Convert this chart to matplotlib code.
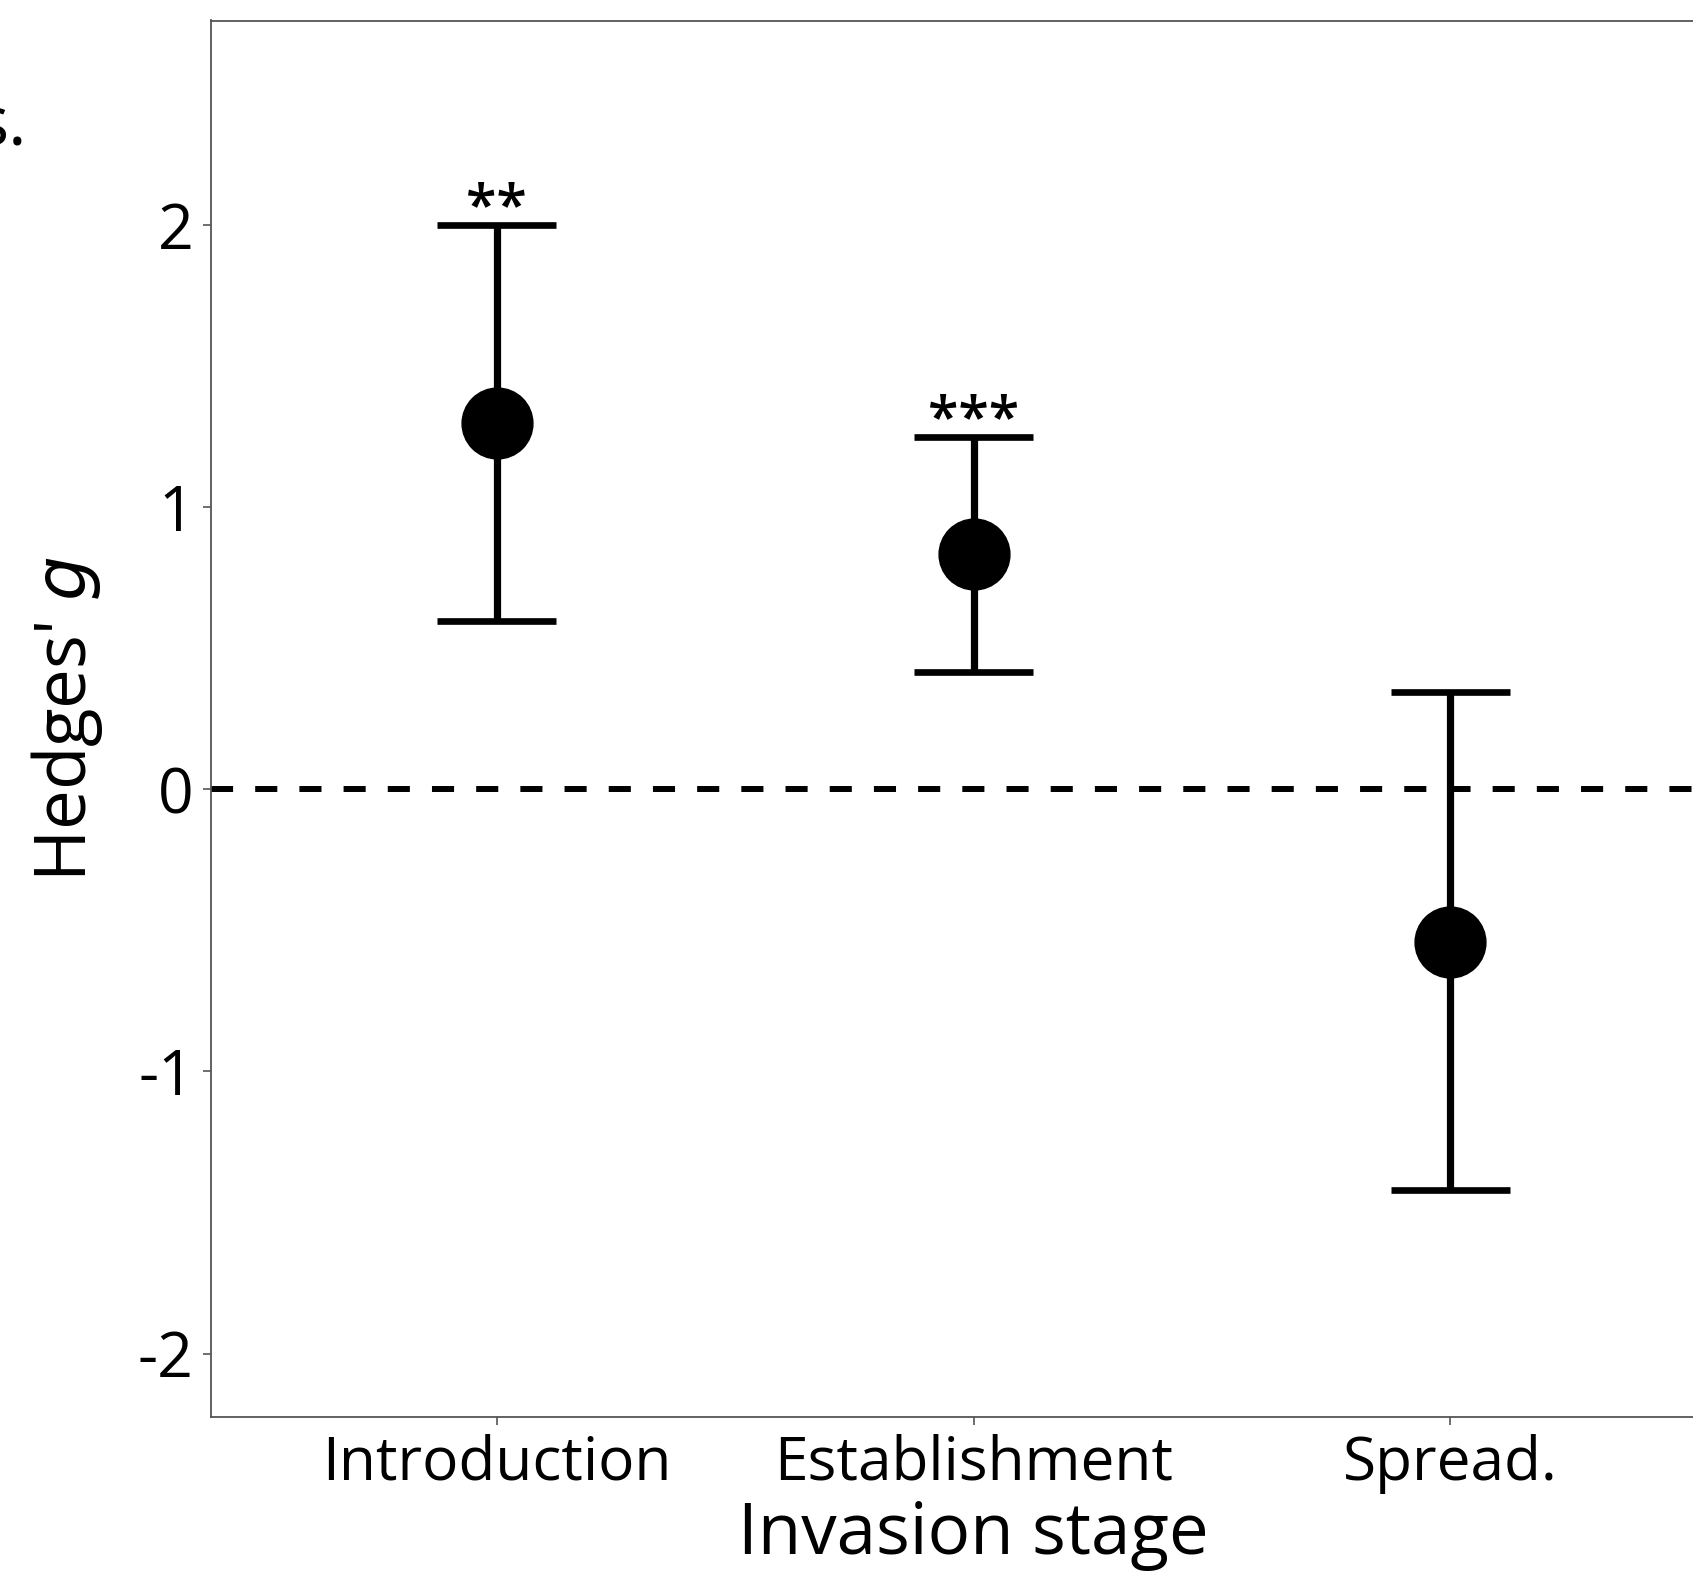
import matplotlib
matplotlib.use("Agg")
import matplotlib.pyplot as plt

plt.rcParams['font.family'] = ['Open Sans', 'DejaVu Sans']

# data
stages = ["Introduction", "Establishment", "Spread."]
g_mean = [1.30, 0.835, -0.54]
ci_low = [0.595, 0.415, -1.42]
ci_high = [2.00, 1.25, 0.345]
stars = ["**", "***", ""]

yticks = [-2, -1, 0, 1, 2]

W, H = 1693, 1573
fig = plt.figure(figsize=(W / 100, H / 100), dpi=100)
# panel is cut off on the right in the reference
ax = fig.add_axes([210.5 / W, (H - 1417) / H, 1526 / W, (1417 - 20.5) / H])

x = list(range(1, len(stages) + 1))

ax.axhline(0, color="black", lw=4.3, ls=(0, (3.7, 3.7)), zorder=1)

ax.vlines(x, ci_low, ci_high, color="black", lw=5.2, zorder=2)
ax.hlines(ci_low, [v - 0.125 for v in x], [v + 0.125 for v in x], color="black", lw=4.8, zorder=2)
ax.hlines(ci_high, [v - 0.125 for v in x], [v + 0.125 for v in x], color="black", lw=4.8, zorder=2)
ax.plot(x, g_mean, "o", color="black", ms=51, zorder=3)

for xi, top, s in zip(x, ci_high, stars):
    if s:
        ax.annotate(s, (xi, top), xytext=(0, -9), textcoords="offset points",
                    ha="center", va="bottom", fontsize=40, fontweight="semibold")

ax.set_xlim(0.4, 3.6)
ax.set_ylim(-2.225, 2.725)
ax.set_xticks(x)
ax.set_xticklabels(stages)
ax.set_yticks(yticks)
ax.set_yticklabels([str(v) for v in yticks])

ax.tick_params(axis="both", labelsize=45, color="#555555", length=6, width=1.2)
ax.tick_params(axis="x", labelsize=43.5, pad=6)
ax.tick_params(axis="y", pad=6)
for sp in ax.spines.values():
    sp.set_color("#555555")
    sp.set_linewidth(1.3)

ax.set_xlabel("Invasion stage", fontsize=51, labelpad=4)
ax.set_ylabel("Hedges' $\\it{g}$", fontsize=51, labelpad=24)

# fragment of neighbouring panel text
fig.text(27 / W, 1 - 145 / H, "s.", ha="right", va="baseline", fontsize=50)

fig.savefig("out.png", dpi=100)
